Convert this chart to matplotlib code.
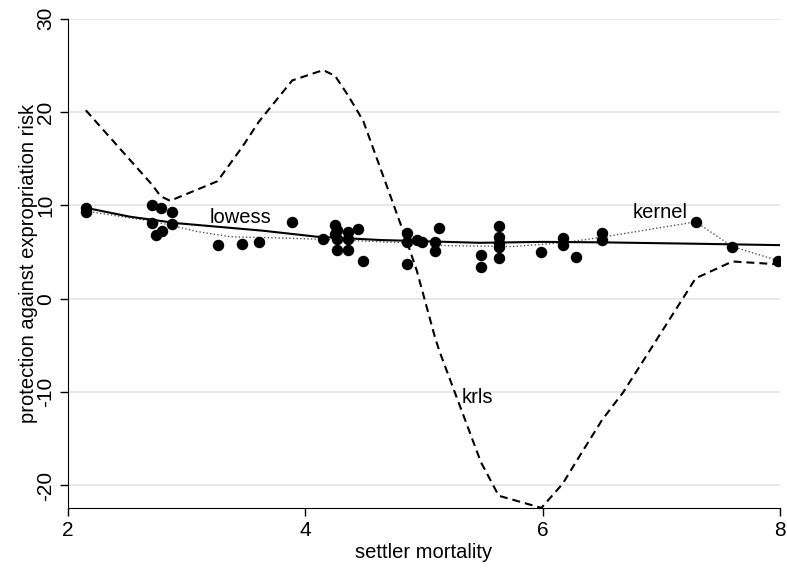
import matplotlib
matplotlib.use("Agg")
import matplotlib.pyplot as plt

plt.rcParams['font.family'] = ['Liberation Sans', 'DejaVu Sans']
plt.rcParams['axes.unicode_minus'] = False

# data points (settler mortality, expropriation risk)
pts_x = [2.15, 2.15, 2.71, 2.78, 2.88, 2.71, 2.88, 2.79, 2.74, 3.26, 3.47, 3.61, 3.89,
         4.15, 4.25, 4.27, 4.25, 4.27, 4.27, 4.36, 4.36, 4.36, 4.44, 4.49,
         4.86, 4.86, 4.86, 4.94, 4.98, 5.09, 5.09, 5.13, 5.48, 5.48,
         5.63, 5.63, 5.63, 5.63, 5.63, 5.99, 6.17, 6.17, 6.28, 6.5, 6.5,
         7.29, 7.6, 7.98]
pts_y = [9.7, 9.3, 10.1, 9.75, 9.3, 8.1, 8.0, 7.3, 6.85, 5.8, 5.9, 6.1, 8.25,
         6.4, 7.9, 7.4, 6.9, 6.4, 5.25, 7.2, 6.4, 5.2, 7.5, 4.1,
         7.1, 6.1, 3.75, 6.3, 6.1, 6.1, 5.15, 7.6, 4.7, 3.45,
         7.8, 6.65, 6.0, 5.5, 4.4, 5.0, 6.5, 5.8, 4.5, 7.1, 6.3,
         8.25, 5.6, 4.1]

# fitted curves
lowess_x = [2.15, 2.52, 2.92, 3.64, 4.1, 4.63, 5.47, 6.0, 6.5, 7.29, 8.0]
lowess_y = [9.75, 8.8, 8.1, 7.3, 6.65, 6.3, 6.0, 6.1, 6.05, 5.9, 5.75]

kernel_x = [2.15, 2.71, 2.86, 3.09, 3.37, 3.85, 4.3, 5.0, 5.19, 5.75, 6.17, 6.5, 7.29, 7.6, 7.98]
kernel_y = [9.4, 8.3, 7.9, 7.2, 6.65, 6.5, 6.3, 5.9, 5.7, 5.6, 6.0, 6.6, 8.25, 5.6, 4.1]

krls_x = [2.15, 2.71, 2.78, 2.86, 3.26, 3.47, 3.61, 3.89, 4.15, 4.25, 4.36, 4.44, 4.49,
          4.86, 4.94, 5.09, 5.13, 5.48, 5.63, 5.99, 6.17, 6.28, 6.5, 6.68, 7.29, 7.6, 7.98]
krls_y = [20.2, 12.2, 11.0, 10.5, 12.6, 16.3, 19.0, 23.4, 24.5, 23.9, 21.8, 20.1, 19.0,
          6.0, 3.0, -4.0, -5.6, -17.5, -21.1, -22.4, -19.8, -17.5, -13.0, -10.0, 2.2, 4.0, 3.7]

fig = plt.figure(figsize=(7.87, 5.70), dpi=100)
ax = fig.add_axes([0.0864, 0.109, 0.9046, 0.858])

ax.plot(krls_x, krls_y, color='black', lw=1.5, linestyle=(0, (3.8, 2.4)), zorder=3)
ax.plot(kernel_x, kernel_y, color='#555555', lw=1.0, linestyle=(0, (1, 1.6)), zorder=3)
ax.plot(lowess_x, lowess_y, color='black', lw=1.5, zorder=4)
ax.scatter(pts_x, pts_y, s=68, color='black', zorder=5, linewidths=0)

ax.text(3.45, 8.7, 'lowess', fontsize=14.5, ha='center', va='center')
ax.text(6.99, 9.3, 'kernel', fontsize=14.5, ha='center', va='center')
ax.text(5.32, -10.6, 'krls', fontsize=14.5, ha='left', va='center')

ax.set_xlim(2, 8)
ax.set_ylim(-22.4, 30)
ax.set_xticks([2, 4, 6, 8])
ax.set_yticks([-20, -10, 0, 10, 20, 30])
ax.yaxis.grid(True, color='#e4e4e4', lw=1.2)
ax.set_axisbelow(True)
for s in ['top', 'right']:
    ax.spines[s].set_visible(False)
ax.tick_params(labelsize=15, length=6, width=1)
ax.tick_params(axis='y', pad=3)
for lab in ax.get_yticklabels():
    lab.set_rotation(90)
    lab.set_va('center')
ax.set_xlabel('settler mortality', fontsize=14.5, labelpad=2)
ax.set_ylabel('protection against expropriation risk', fontsize=14.5, labelpad=-1)

fig.savefig('out.png', dpi=100)
